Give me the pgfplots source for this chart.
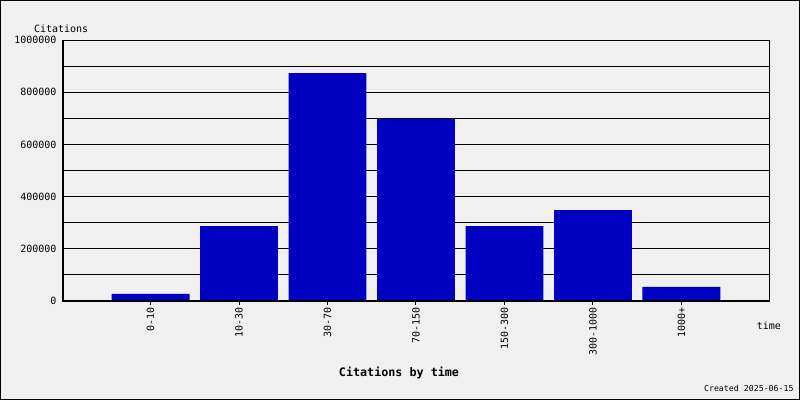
\documentclass[border=0pt]{standalone}
\usepackage{pgfplots}
\pgfplotsset{compat=1.18}
\usepackage{fontspec}
\setmainfont{DejaVu Sans Mono}
\definecolor{bg}{RGB}{240,240,240}
\definecolor{barblue}{RGB}{0,0,192}

\begin{document}
\begin{tikzpicture}[x=0.75pt,y=0.75pt]
\fill[bg] (0,0) rectangle (800,400);
\draw[black,line width=0.75pt] (0.375,0.375) rectangle (799.625,399.625);
\begin{axis}[
  at={(46.5pt,74.25pt)}, anchor=south west,
  scale only axis, width=531pt, height=195.75pt,
  xmin=-1, xmax=7, ymin=0, ymax=1000000,
  ybar, bar width=0.88, bar shift=0pt,
  axis line style={black, line width=0.75pt},
  xtick=data, tick pos=left,
  xticklabels={0-10,10-30,30-70,70-150,150-300,300-1000,1000+},
  xticklabel style={rotate=90, anchor=east, font=\fontsize{7.5}{9}\selectfont, inner sep=1.5pt},
  xtick style={black, line width=0.75pt},
  tick align=outside, major tick length=3pt,
  ytick={0,200000,...,1000000},
  minor ytick={100000,300000,...,900000},
  ytick style={draw=none}, minor tick length=0pt,
  yticklabel style={font=\fontsize{7.5}{9}\selectfont, inner sep=1pt,
    /pgf/number format/fixed, /pgf/number format/precision=0,
    /pgf/number format/1000 sep={}, /pgf/number format/assume math mode=true},
  ymajorgrids, yminorgrids,
  major grid style={black, line width=0.75pt},
  minor grid style={black, line width=0.75pt},
  scaled y ticks=false,
]
\addplot[fill=barblue, draw=none] coordinates {
  (0, 27000) (1, 287000) (2, 873500) (3, 698000)
  (4, 287000) (5, 348500) (6, 54500)
};
\draw[black, line width=2.25pt] (rel axis cs:0,1) -- (rel axis cs:0,0) -- (rel axis cs:1,0);
\end{axis}
\node[font=\fontsize{7.5}{9}\selectfont] at (61,371) {Citations};
\node[font=\fontsize{7.5}{9}\selectfont] at (769,74) {time};
\node[font=\bfseries\fontsize{8.8}{10}\selectfont] at (399,27) {Citations by time};
\node[font=\fontsize{6.2}{7}\selectfont, anchor=east, inner sep=0pt] at (794,12) {Created 2025-06-15};
\end{tikzpicture}
\end{document}
